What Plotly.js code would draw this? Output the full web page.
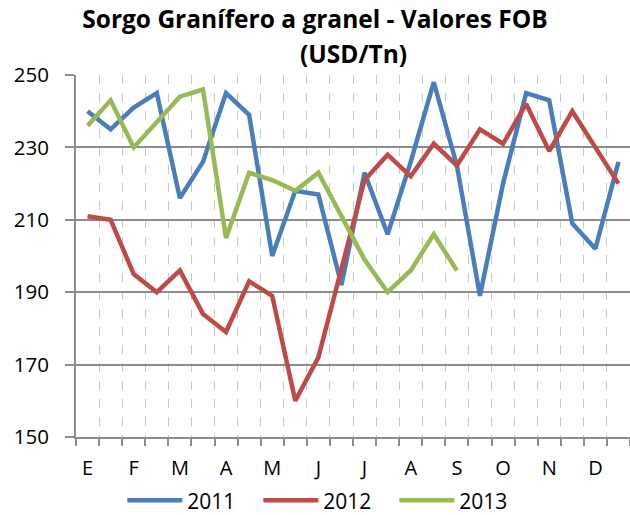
<!DOCTYPE html>
<html>
<head>
<meta charset="utf-8">
<script src="https://cdn.plot.ly/plotly-3.0.1.min.js"></script>
<style>html,body{margin:0;padding:0;background:#fff;}#chart{width:630px;height:515px;}</style>
</head>
<body>
<div id="chart"></div>
<script>
// Month labels (one label per two half-month points)
const monthLabels = ["E","F","M","A","M","J","J","A","S","O","N","D"];
const seriesNames = ["2011","2012","2013"];
// Half-monthly FOB values (USD/Tn)
const v2011 = [240,235,241,245,216,226,245,239,200,218,217,192,223,206,226,248,225,189,220,245,243,209,202,226];
const v2012 = [211,210,195,190,196,184,179,193,189,160,172,197,221,228,222,231,225,235,231,242,229,240,230,220];
const v2013 = [236,243,230,237,244,246,205,223,221,218,223,211,199,190,196,206,196];
const colors = ["#4a7ebb","#be4b48","#98b954"];

const nPts = monthLabels.length * 2;
const idx = arr => arr.map((_, i) => i);
const boundaries = Array.from({length: nPts + 1}, (_, i) => i - 0.5);
const labelPos = monthLabels.map((_, i) => i * 2);

const font = "'Open Sans', 'Liberation Sans', Arial, sans-serif";

const traces = [v2011, v2012, v2013].map((v, k) => ({
  x: idx(v), y: v, type: "scatter", mode: "lines", name: seriesNames[k],
  line: {color: colors[k], width: 4.5}, xaxis: "x", yaxis: "y"
}));
// dummy trace to carry the month labels axis
traces.push({x: [0], y: [null], xaxis: "x2", yaxis: "y", showlegend: false, hoverinfo: "skip"});

const layout = {
  width: 630, height: 515,
  margin: {l: 76, r: 0, t: 75, b: 78, autoexpand: false},
  paper_bgcolor: "#fff", plot_bgcolor: "#fff",
  font: {family: font, size: 20, color: "#000"},
  title: {text: "Sorgo Granífero a granel - Valores FOB", x: 0.5, xanchor: "center",
          y: 0.978, yanchor: "top", yref: "container",
          font: {family: font, size: 24.5, color: "#000", weight: "bold"}},
  annotations: [{text: "(USD/Tn)", xref: "paper", yref: "paper", x: 0.5, y: 1.0,
     xanchor: "center", yanchor: "bottom", showarrow: false, yshift: 3,
     font: {family: font, size: 24.5, color: "#000", weight: "bold"}}],
  xaxis: {range: [-0.5, nPts - 0.5], tickmode: "array", tickvals: boundaries, showticklabels: false,
          ticks: "outside", ticklen: 7, tickwidth: 2, tickcolor: "#8c8c8c",
          showgrid: true, gridcolor: "#c8c8c8", griddash: "dash", gridwidth: 1,
          showline: true, linecolor: "#8c8c8c", linewidth: 2, zeroline: false, fixedrange: true},
  xaxis2: {overlaying: "x", side: "bottom", range: [-0.5, nPts - 0.5], tickmode: "array",
           tickvals: labelPos, ticktext: monthLabels, ticks: "", showgrid: false, zeroline: false,
           showline: false, ticklabelstandoff: 17, tickfont: {size: 20}},
  yaxis: {range: [150, 250], tick0: 150, dtick: 20, ticks: "outside", ticklen: 9, tickwidth: 2,
          tickcolor: "#8c8c8c", showgrid: true, gridcolor: "#8c8c8c", gridwidth: 2,
          showline: true, linecolor: "#8c8c8c", linewidth: 2, zeroline: false,
          ticklabelstandoff: 12, tickfont: {size: 20.5}},
  showlegend: true,
  legend: {orientation: "h", xref: "container", yref: "paper", x: 0.518, xanchor: "center",
           y: -0.176, yanchor: "middle", itemwidth: 55, entrywidth: 66, font: {size: 21},
           traceorder: "normal"}
};

Plotly.newPlot("chart", traces, layout, {displayModeBar: false, staticPlot: true});
</script>
</body>
</html>
